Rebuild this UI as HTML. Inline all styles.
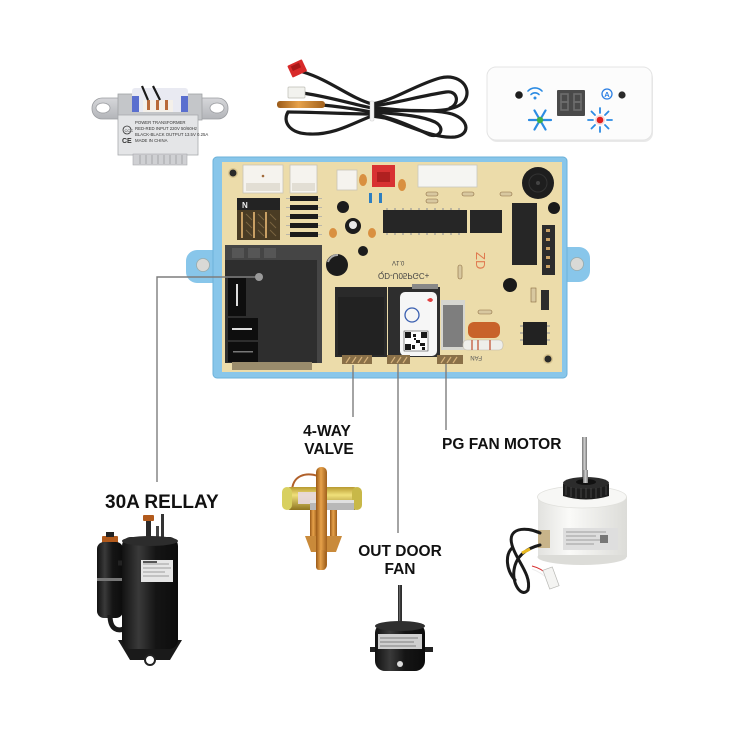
<!DOCTYPE html>
<html><head><meta charset="utf-8"><style>
html,body{margin:0;padding:0;background:#fff;}
svg{display:block;}
text{font-family:"Liberation Sans",sans-serif;}
</style></head><body>
<svg width="750" height="750" viewBox="0 0 750 750" xmlns="http://www.w3.org/2000/svg">
<defs>
<linearGradient id="gold" x1="0" y1="0" x2="0" y2="1"><stop offset="0" stop-color="#b89a30"/><stop offset="0.35" stop-color="#f0e07a"/><stop offset="1" stop-color="#8e7420"/></linearGradient>
<linearGradient id="copper" x1="0" y1="0" x2="1" y2="0"><stop offset="0" stop-color="#9a5a18"/><stop offset="0.45" stop-color="#e7a24a"/><stop offset="1" stop-color="#a0601c"/></linearGradient>
<linearGradient id="blk" x1="0" y1="0" x2="1" y2="0"><stop offset="0" stop-color="#111"/><stop offset="0.3" stop-color="#3a3a3a"/><stop offset="0.6" stop-color="#151515"/><stop offset="1" stop-color="#0c0c0c"/></linearGradient>
<linearGradient id="wht" x1="0" y1="0" x2="1" y2="0"><stop offset="0" stop-color="#e2e2df"/><stop offset="0.35" stop-color="#fafaf8"/><stop offset="1" stop-color="#dcdcd8"/></linearGradient>
<linearGradient id="steel" x1="0" y1="0" x2="1" y2="0"><stop offset="0" stop-color="#777"/><stop offset="0.5" stop-color="#d0d0d0"/><stop offset="1" stop-color="#777"/></linearGradient>
<linearGradient id="silver" x1="0" y1="0" x2="0" y2="1"><stop offset="0" stop-color="#d6d7da"/><stop offset="1" stop-color="#b3b5b9"/></linearGradient>
</defs>

<!-- ============ TRANSFORMER ============ -->
<rect x="92" y="98" width="36" height="21" rx="10" fill="url(#silver)" stroke="#9a9ca0" stroke-width="0.8"/>
<rect x="192" y="98" width="36" height="21" rx="10" fill="url(#silver)" stroke="#9a9ca0" stroke-width="0.8"/>
<ellipse cx="103" cy="108" rx="7" ry="5" fill="#fff" stroke="#9a9ca0" stroke-width="0.8"/>
<ellipse cx="217" cy="108" rx="7" ry="5" fill="#fff" stroke="#9a9ca0" stroke-width="0.8"/>
<rect x="118" y="94" width="84" height="26" fill="#c4c6c9" stroke="#a0a2a6" stroke-width="0.8"/>
<rect x="132" y="88" width="56" height="24" rx="3" fill="#e9eaf2"/>
<rect x="132" y="96" width="7" height="16" fill="#5a6fcf"/>
<rect x="181" y="96" width="7" height="16" fill="#5a6fcf"/>
<rect x="143" y="100" width="30" height="12" fill="#f4f0ea"/>
<rect x="147" y="100" width="3" height="10" fill="#b86a3a"/>
<rect x="156" y="100" width="3" height="10" fill="#b86a3a"/>
<rect x="165" y="100" width="3" height="10" fill="#b86a3a"/>
<path d="M148,100 L142,86 M160,100 L153,86" stroke="#1a1a1a" stroke-width="2.2" fill="none"/>
<rect x="118" y="115" width="80" height="40" fill="#e4e5e7" stroke="#a8aaae" stroke-width="0.8"/>
<circle cx="127" cy="130" r="4" fill="none" stroke="#333" stroke-width="0.8"/>
<text x="124.5" y="132" font-size="4" fill="#333">CCC</text>
<text x="122" y="143" font-size="7" font-weight="bold" fill="#333">CE</text>
<text x="135" y="124" font-size="4.3" fill="#333">POWER TRANSFORMER</text>
<text x="135" y="130" font-size="4.3" fill="#333">RED-RED INPUT 220V 50/60Hz</text>
<text x="135" y="136" font-size="4.3" fill="#333">BLACK-BLACK OUTPUT 13.5V 0.25A</text>
<text x="135" y="142" font-size="4.3" fill="#333">MADE IN CHINA</text>
<rect x="133" y="154" width="54" height="11" fill="#cfd0d3" stroke="#a8aaae" stroke-width="0.6"/>
<path d="M140,155v9M146,155v9M152,155v9M158,155v9M164,155v9M170,155v9M176,155v9M182,155v9" stroke="#9a9ca0" stroke-width="0.8"/>

<!-- ============ SENSOR WIRE ============ -->
<g fill="none" stroke="#1d1d1d" stroke-width="3.2" stroke-linecap="round">
<path d="M303,72 C330,80 350,98 372,104"/>
<path d="M303,93 C335,98 355,105 372,108"/>
<path d="M322,105 C345,107 360,110 372,112"/>
<path d="M288,112 C282,122 290,134 310,134 C335,135 355,122 372,116"/>
<path d="M288,112 C310,112 350,114 372,114"/>
<path d="M372,104 C395,100 415,85 440,78 C460,73 472,88 465,100 C458,112 430,112 400,110 C390,109 380,108 372,108"/>
<path d="M372,110 C400,112 430,108 452,114 C470,120 470,135 455,137 C435,139 410,126 385,118 L372,116"/>
<path d="M372,114 C395,118 415,128 430,135 C440,138 446,128 435,122 C420,115 395,114 372,112"/>
<path d="M372,106 C392,104 420,96 446,92 C458,90 460,104 450,108"/>
</g>
<rect x="289" y="62" width="16" height="13" rx="1" fill="#d82a2a" transform="rotate(-25 297 68)"/>
<rect x="292" y="64" width="9" height="5" fill="#a81818" transform="rotate(-25 297 68)"/>
<rect x="288" y="87" width="17" height="11" rx="1" fill="#f2f2ee" stroke="#bdbdb5" stroke-width="0.7"/>
<rect x="277" y="101" width="48" height="7" rx="3" fill="url(#copper)"/>
<rect x="370" y="101" width="4" height="20" rx="1" fill="#f4f4f4" stroke="#ccc" stroke-width="0.5"/>

<!-- ============ DISPLAY PANEL ============ -->
<rect x="488" y="69" width="165" height="73" rx="9" fill="#e9e9e9"/>
<rect x="487" y="67" width="165" height="73" rx="9" fill="#fcfcfc" stroke="#e4e4e4" stroke-width="1"/>
<circle cx="519" cy="95" r="3.8" fill="#1e1e1e"/>
<circle cx="622" cy="95" r="3.6" fill="#2a2a2a"/>
<g fill="none" stroke="#2b8be3" stroke-width="1.6" stroke-linecap="round">
<path d="M528,91 A9.5,9.5 0 0 1 542,91"/>
<path d="M531,94.5 A5.5,5.5 0 0 1 539,94.5"/>
</g>
<circle cx="535" cy="98" r="1.5" fill="#2b8be3"/>
<rect x="557" y="90" width="28" height="26" rx="1" fill="#4a4a4a"/>
<g fill="none" stroke="#6d6d6d" stroke-width="1.6">
<rect x="561" y="94" width="7" height="8"/><rect x="561" y="102" width="7" height="8"/>
<rect x="574" y="94" width="7" height="8"/><rect x="574" y="102" width="7" height="8"/>
</g>
<circle cx="607" cy="94" r="5" fill="none" stroke="#2b7fe3" stroke-width="1.3"/>
<text x="607" y="97" font-size="7.5" font-weight="bold" fill="#2b7fe3" text-anchor="middle">A</text>
<g stroke="#2b8be3" stroke-width="2.2" stroke-linecap="round">
<path d="M529,120 L551,120 M534.5,110.5 L545.5,129.5 M534.5,129.5 L545.5,110.5"/>
</g>
<circle cx="540" cy="120" r="3.2" fill="#3cb04a"/>
<g stroke="#2b8be3" stroke-width="1.8" stroke-linecap="round">
<path d="M607,120 L612,120 M593,120 L588,120 M600,113 L600,108 M600,127 L600,132 M605,115 L608.5,111.5 M595,125 L591.5,128.5 M605,125 L608.5,128.5 M595,115 L591.5,111.5"/>
</g>
<circle cx="600" cy="120" r="5" fill="#f6d6d6"/>
<circle cx="600" cy="120" r="3.3" fill="#e01f1f"/>

<!-- ============ BOARD ============ -->
<rect x="186" y="250" width="38" height="33" rx="11" fill="#88c6ea"/>
<rect x="556" y="247" width="34" height="35" rx="11" fill="#88c6ea"/>
<circle cx="203" cy="265" r="6.5" fill="#d9d9d6" stroke="#9aa" stroke-width="0.8"/>
<circle cx="577" cy="264" r="6.5" fill="#d9d9d6" stroke="#9aa" stroke-width="0.8"/>
<rect x="213" y="157" width="354" height="221" rx="4" fill="#88c6ea" stroke="#6cb1da" stroke-width="1"/>
<rect x="222" y="162" width="340" height="210" fill="#ecdcaa"/>
<circle cx="233" cy="173" r="5" fill="#d8c48f"/><circle cx="233" cy="173" r="3.5" fill="#2a2a2a"/>
<circle cx="548" cy="359" r="5" fill="#d8c48f"/><circle cx="548" cy="359" r="3.5" fill="#2a2a2a"/>

<!-- top connectors -->
<rect x="243" y="165" width="40" height="28" fill="#f5f3ee" stroke="#c8c4b6" stroke-width="0.8"/>
<rect x="246" y="183" width="34" height="8" fill="#e2ded4"/>
<circle cx="263" cy="176" r="1.3" fill="#a06a3a"/>
<rect x="290" y="165" width="27" height="28" fill="#f5f3ee" stroke="#c8c4b6" stroke-width="0.8"/>
<rect x="292" y="183" width="23" height="8" fill="#e2ded4"/>
<rect x="337" y="170" width="20" height="20" fill="#f5f3ee" stroke="#c8c4b6" stroke-width="0.8"/>
<rect x="372" y="165" width="23" height="22" fill="#d83232"/>
<rect x="377" y="172" width="13" height="10" fill="#b02020"/>
<rect x="418" y="165" width="59" height="22" fill="#f5f5f2" stroke="#c8c8c0" stroke-width="0.8"/>
<ellipse cx="363" cy="180" rx="4" ry="6" fill="#d99040"/>
<ellipse cx="402" cy="185" rx="4" ry="6" fill="#d99040"/>
<!-- buzzer -->
<circle cx="538" cy="183" r="16" fill="#1e1e1e"/>
<circle cx="538" cy="183" r="9" fill="none" stroke="#333" stroke-width="1"/>
<circle cx="538" cy="183" r="2" fill="#444"/>
<circle cx="554" cy="208" r="6" fill="#1a1a1a"/>
<!-- N terminals -->
<rect x="237" y="198" width="43" height="12" fill="#232323"/>
<text x="242" y="208" font-size="8" font-weight="bold" fill="#eee">N</text>
<rect x="237" y="210" width="43" height="30" fill="#4a3c24"/>
<g stroke="#c9a064" stroke-width="2"><path d="M242,212v26M254,212v26M266,212v26"/></g>
<g stroke="#7a6440" stroke-width="1"><path d="M246,214l6,6M246,222l6,6M246,230l6,6M258,214l6,6M258,222l6,6M258,230l6,6M270,214l6,6M270,222l6,6M270,230l6,6"/></g>
<!-- diode block -->
<g fill="#1c1c1c"><rect x="290" y="196" width="28" height="5"/><rect x="290" y="205" width="28" height="5"/><rect x="290" y="214" width="28" height="5"/><rect x="290" y="223" width="28" height="5"/><rect x="290" y="232" width="28" height="5"/></g>
<g stroke="#aaa" stroke-width="0.8"><path d="M286,198.5h4M318,198.5h4M286,207.5h4M318,207.5h4M286,216.5h4M318,216.5h4M286,225.5h4M318,225.5h4M286,234.5h4M318,234.5h4"/></g>
<!-- small parts -->
<circle cx="343" cy="207" r="6" fill="#1c1c1c"/>
<circle cx="353" cy="226" r="8" fill="#1c1c1c"/><circle cx="353" cy="225" r="4" fill="#e8e8e8"/>
<ellipse cx="333" cy="233" rx="4" ry="5" fill="#d99040"/>
<ellipse cx="372" cy="233" rx="4" ry="5" fill="#d99040"/>
<ellipse cx="363" cy="251" rx="5" ry="5" fill="#1c1c1c"/>
<rect x="369" y="193" width="3" height="10" fill="#2e7fc0"/>
<rect x="379" y="193" width="3" height="10" fill="#2e7fc0"/>
<rect x="426" y="192" width="12" height="4" rx="2" fill="#d8c8a0" stroke="#8a6a40" stroke-width="0.6"/>
<rect x="426" y="199" width="12" height="4" rx="2" fill="#d8c8a0" stroke="#8a6a40" stroke-width="0.6"/>
<rect x="462" y="192" width="12" height="4" rx="2" fill="#d8c8a0" stroke="#8a6a40" stroke-width="0.6"/>
<rect x="500" y="192" width="12" height="4" rx="2" fill="#d8c8a0" stroke="#8a6a40" stroke-width="0.6"/>
<!-- ICs -->
<rect x="383" y="210" width="84" height="23" fill="#262626"/>
<g stroke="#999" stroke-width="1.2"><path d="M387,208v2M395,208v2M403,208v2M411,208v2M419,208v2M427,208v2M435,208v2M443,208v2M451,208v2M459,208v2M387,233v2M395,233v2M403,233v2M411,233v2M419,233v2M427,233v2M435,233v2M443,233v2M451,233v2M459,233v2"/></g>
<rect x="470" y="210" width="32" height="23" fill="#262626"/>
<rect x="512" y="203" width="25" height="62" fill="#262626"/>
<rect x="542" y="225" width="13" height="50" fill="#2c2c2c"/>
<g fill="#c9a064"><rect x="546" y="229" width="4" height="3"/><rect x="546" y="238" width="4" height="3"/><rect x="546" y="247" width="4" height="3"/><rect x="546" y="256" width="4" height="3"/><rect x="546" y="265" width="4" height="3"/></g>
<!-- texts on board -->
<text x="378" y="270" font-size="8" fill="#444" transform="translate(0,543) scale(1,-1)">QD-U05PGC+</text>
<text x="392" y="262" font-size="6" fill="#444" transform="translate(0,523) scale(1,-1)">V1.0</text>
<text x="474" y="262" font-size="13" fill="#e07a50" transform="rotate(90 480 258)">ZD</text>
<rect x="458" y="265" width="4" height="14" rx="2" fill="#d8c8a0" stroke="#8a6a40" stroke-width="0.6"/>
<circle cx="510" cy="285" r="7" fill="#1a1a1a"/>
<rect x="531" y="288" width="5" height="14" fill="#d8c8a0" stroke="#8a6a40" stroke-width="0.6"/>
<rect x="541" y="290" width="8" height="20" fill="#2c2c2c"/>
<!-- big relay -->
<rect x="225" y="245" width="97" height="118" fill="#454545"/>
<rect x="225" y="260" width="92" height="103" fill="#2e2e2e"/>
<rect x="228" y="278" width="18" height="38" fill="#0e0e0e"/>
<rect x="236" y="284" width="2" height="22" fill="#ddd"/>
<rect x="228" y="318" width="30" height="22" fill="#0e0e0e"/>
<rect x="232" y="328" width="20" height="2" fill="#ddd"/>
<rect x="228" y="342" width="30" height="20" fill="#0e0e0e"/>
<rect x="233" y="351" width="20" height="1.5" fill="#777"/>
<g fill="#565656"><rect x="232" y="248" width="12" height="10"/><rect x="248" y="248" width="12" height="10"/><rect x="264" y="248" width="12" height="10"/></g>
<rect x="232" y="362" width="80" height="8" fill="#9a8c6c"/>
<!-- electrolytic cap -->
<circle cx="337" cy="265" r="11" fill="#1c1c1c"/>
<path d="M328,262 A10,10 0 0 1 338,255" stroke="#aaa" stroke-width="2" fill="none"/>
<!-- relays 2,3 -->
<rect x="335" y="287" width="52" height="70" fill="#2a2a2a"/>
<rect x="338" y="297" width="46" height="58" fill="#222"/>
<rect x="388" y="287" width="52" height="70" fill="#2e2e2e"/>
<rect x="412" y="284" width="26" height="5" fill="#888"/>
<rect x="400" y="292" width="37" height="64" rx="5" fill="#f6f6f6"/>
<circle cx="412" cy="315" r="7" fill="none" stroke="#3a5fb0" stroke-width="1.3"/>
<path d="M427,300 q4,-4 6,0 q-2,4 -6,0z" fill="#e04040"/>
<rect x="404" y="331" width="24" height="20" fill="#fff" stroke="#222" stroke-width="0.5"/>
<g fill="#1a1a1a"><rect x="405" y="332" width="6" height="6"/><rect x="421" y="332" width="6" height="6"/><rect x="405" y="344" width="6" height="6"/><rect x="413" y="334" width="3" height="3"/><rect x="416" y="340" width="4" height="3"/><rect x="412" y="345" width="3" height="4"/><rect x="420" y="343" width="5" height="3"/><rect x="422" y="347" width="3" height="3"/><rect x="414" y="338" width="2" height="2"/></g>
<!-- right-bottom parts -->
<rect x="441" y="300" width="24" height="50" fill="#d6d6d0"/>
<rect x="443" y="305" width="20" height="42" fill="#7e7e7e"/>
<rect x="468" y="322" width="32" height="16" rx="6" fill="#c8622a"/>
<rect x="463" y="340" width="40" height="10" rx="4" fill="#eeeeea" stroke="#c0b8a8" stroke-width="0.6"/>
<g stroke="#c04a2a" stroke-width="1.2"><path d="M472,340v10M478,340v10M490,340v10"/></g>
<rect x="478" y="310" width="14" height="4" rx="2" fill="#d8c8a0" stroke="#8a6a40" stroke-width="0.6"/>
<rect x="523" y="322" width="24" height="23" fill="#222"/>
<g stroke="#999" stroke-width="1.2"><path d="M520,326h3M520,333h3M520,340h3M547,326h3M547,333h3M547,340h3"/></g>
<!-- bottom connectors -->
<rect x="342" y="355" width="30" height="9" fill="#8a7048"/>
<g stroke="#d6b27a" stroke-width="1.2"><path d="M346,363l4,-6M352,363l4,-6M358,363l4,-6M364,363l4,-6"/></g>
<rect x="387" y="355" width="23" height="9" fill="#8a7048"/>
<g stroke="#d6b27a" stroke-width="1.2"><path d="M391,363l4,-6M397,363l4,-6M403,363l4,-6"/></g>
<rect x="437" y="355" width="26" height="9" fill="#8a7048"/>
<g stroke="#d6b27a" stroke-width="1.2"><path d="M441,363l4,-6M447,363l4,-6M453,363l4,-6"/></g>
<text x="468" y="356" font-size="6" fill="#555" transform="rotate(180 475 358) translate(0,4)">FAN</text>

<!-- ============ LEADER LINES ============ -->
<g stroke="#7d7d7d" stroke-width="1.4" fill="none">
<path d="M259,277 H157 V482"/>
<path d="M353,365 V417"/>
<path d="M398,364 V533"/>
<path d="M446,364 V430"/>
</g>
<circle cx="259" cy="277" r="4" fill="#9a9a9a"/>

<!-- ============ LABELS ============ -->
<g font-weight="bold" fill="#111">
<text x="105" y="508" font-size="19">30A RELLAY</text>
<text x="327" y="436" font-size="15.5" text-anchor="middle">4-WAY</text>
<text x="329" y="454" font-size="15.5" text-anchor="middle">VALVE</text>
<text x="442" y="449" font-size="15.5">PG FAN MOTOR</text>
<text x="400" y="556" font-size="15.5" text-anchor="middle">OUT DOOR</text>
<text x="400" y="574" font-size="15.5" text-anchor="middle">FAN</text>
</g>

<!-- ============ COMPRESSOR ============ -->
<rect x="146" y="520" width="5" height="20" fill="#2a2a2a"/>
<rect x="143" y="515" width="11" height="6" rx="1" fill="#b25a1c"/>
<rect x="161" y="514" width="3" height="24" fill="#333"/>
<rect x="156" y="526" width="3" height="12" fill="#444"/>
<rect x="102" y="536" width="16" height="8" rx="1" fill="#b25a1c"/>
<rect x="106" y="532" width="8" height="5" fill="#222"/>
<rect x="97" y="542" width="26" height="76" rx="7" fill="url(#blk)"/>
<rect x="97" y="578" width="26" height="3" fill="#777"/>
<path d="M110,615 C110,630 118,632 126,628" stroke="#1a1a1a" stroke-width="5" fill="none"/>
<path d="M118,563 h8" stroke="#222" stroke-width="5"/>
<path d="M118,640 L182,640 L170,660 L130,660 Z" fill="#1a1a1a"/>
<circle cx="150" cy="660" r="5" fill="#fff" stroke="#222" stroke-width="2"/>
<rect x="122" y="537" width="56" height="112" rx="9" fill="url(#blk)"/>
<ellipse cx="150" cy="541" rx="28" ry="5" fill="#2c2c2c"/>
<rect x="141" y="560" width="32" height="22" fill="#e6e6e6"/>
<g stroke="#888" stroke-width="0.8"><path d="M143,564h26M143,568h28M143,572h22M143,576h26"/></g>
<rect x="143" y="561" width="14" height="2" fill="#555"/>

<!-- ============ 4-WAY VALVE ============ -->
<path d="M292,492 C292,475 306,472 318,476" stroke="#b0602a" stroke-width="2" fill="none"/>
<rect x="310" y="505" width="7" height="32" fill="url(#copper)"/>
<rect x="330" y="505" width="7" height="32" fill="url(#copper)"/>
<path d="M305,536 L342,536 L336,552 L311,552 Z" fill="#c98a3a"/>
<rect x="282" y="487" width="80" height="23" rx="9" fill="url(#gold)"/>
<rect x="282" y="487" width="10" height="23" rx="5" fill="#d8d060"/>
<rect x="352" y="487" width="10" height="23" rx="5" fill="#c8b848"/>
<rect x="298" y="492" width="24" height="12" fill="#e8d8e0" opacity="0.9"/>
<rect x="310" y="500" width="44" height="10" fill="#b8b8b8"/>
<rect x="310" y="500" width="44" height="3" fill="#e0e0e0"/>
<rect x="316" y="467" width="11" height="103" rx="5" fill="url(#copper)"/>
<rect x="316" y="550" width="10" height="20" rx="3" fill="url(#copper)"/>

<!-- ============ OUTDOOR FAN ============ -->
<rect x="398" y="585" width="4" height="45" fill="#2e2e2e"/>
<rect x="399" y="585" width="1.2" height="40" fill="#666"/>
<rect x="370" y="647" width="8" height="5" fill="#222"/>
<rect x="424" y="647" width="9" height="5" fill="#222"/>
<rect x="375" y="623" width="50" height="48" rx="10" fill="url(#blk)"/>
<ellipse cx="400" cy="626" rx="25" ry="5" fill="#2f2f2f"/>
<rect x="378" y="634" width="44" height="15" fill="#cfcfcf"/>
<g stroke="#666" stroke-width="0.8"><path d="M380,638h38M380,642h34M380,646h36"/></g>
<circle cx="400" cy="664" r="3" fill="#ddd"/>

<!-- ============ PG FAN MOTOR ============ -->
<rect x="582" y="437" width="5" height="46" fill="url(#steel)"/>
<rect x="538" y="497" width="89" height="60" fill="url(#wht)"/>
<ellipse cx="582" cy="557" rx="44.5" ry="8" fill="#dcdcd8"/>
<rect x="538" y="497" width="89" height="58" fill="url(#wht)"/>
<ellipse cx="582" cy="497" rx="44.5" ry="11" fill="#f7f7f5" stroke="#e0e0dc" stroke-width="0.8"/>
<path d="M563,496 L563,484 Q586,474 609,484 L609,496 Q586,503 563,496 Z" fill="#1c1c1c"/>
<ellipse cx="586" cy="483" rx="23" ry="6" fill="#2c2c2c"/>
<ellipse cx="586" cy="482" rx="10" ry="3" fill="#111"/>
<rect x="583" y="470" width="5" height="13" fill="url(#steel)"/>
<g stroke="#444" stroke-width="1"><path d="M566,486v9M571,487v10M576,488v10M581,488v10M586,488v10M591,488v10M596,488v10M601,487v10M606,486v9"/></g>
<rect x="563" y="528" width="55" height="22" fill="#dedede"/>
<g stroke="#888" stroke-width="0.7"><path d="M566,532h40M566,536h30M566,540h36M566,544h28"/></g>
<rect x="600" y="535" width="8" height="8" fill="#777"/>
<rect x="538" y="530" width="12" height="18" fill="#c8b48a"/>
<g fill="none" stroke="#1a1a1a" stroke-width="3" stroke-linecap="round">
<path d="M540,533 C525,526 507,528 512,545 C516,560 532,575 528,590 C522,598 512,585 514,570 C516,555 528,548 540,545"/>
<path d="M512,548 C505,555 506,570 515,580"/>
</g>
<path d="M522,553 L530,549" stroke="#e8b820" stroke-width="3"/>
<g fill="none" stroke-width="1"><path d="M532,566 C540,568 545,572 548,575" stroke="#d83030"/><path d="M532,569 C540,572 545,576 548,579" stroke="#eee"/></g>
<rect x="546" y="568" width="10" height="20" fill="#f4f4f2" stroke="#b8b8b4" stroke-width="0.7" transform="rotate(-20 551 578)"/>
</svg>
</body></html>
